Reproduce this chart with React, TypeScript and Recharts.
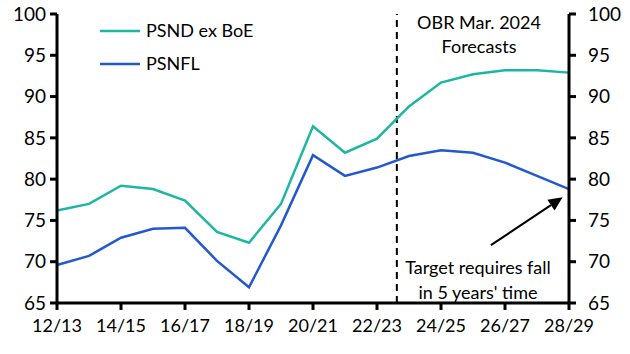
import { LineChart, Line, XAxis, YAxis, ReferenceLine, Customized } from "recharts"

document.body.style.margin = "0"

const categories = [
  "12/13", "13/14", "14/15", "15/16", "16/17", "17/18", "18/19", "19/20", "20/21",
  "21/22", "22/23", "23/24", "24/25", "25/26", "26/27", "27/28", "28/29",
]
const psndExBoe = [76.2, 77.0, 79.2, 78.8, 77.4, 73.6, 72.3, 77.0, 86.4, 83.2, 84.9, 88.8, 91.7, 92.7, 93.2, 93.2, 92.9]
const psnfl = [69.6, 70.7, 72.9, 74.0, 74.1, 70.1, 66.9, 74.4, 82.9, 80.4, 81.4, 82.8, 83.5, 83.2, 82.0, 80.4, 78.8]
const yTicks = [65, 70, 75, 80, 85, 90, 95, 100]
const xTicks = [0, 2, 4, 6, 8, 10, 12, 14, 16]

const TEAL = "#1db6a2"
const BLUE = "#2358cf"
const FONT = "Lato, 'Open Sans', sans-serif"

const data = categories.map((year, i) => ({ i, year, psnd: psndExBoe[i], psnfl: psnfl[i] }))

const tickStyle = { fill: "#000", fontSize: 18, fontFamily: FONT }
const yTickStyle = { fill: "#000", fontSize: 19, fontFamily: FONT }

function Arrow(props: any) {
  const { x1, y1, x2, y2 } = props
  const ang = Math.atan2(y2 - y1, x2 - x1)
  const len = 14
  const w = 6.5
  const bx = x2 - len * Math.cos(ang)
  const by = y2 - len * Math.sin(ang)
  const px = -Math.sin(ang) * w
  const py = Math.cos(ang) * w
  return (
    <g>
      <line x1={x1} y1={y1} x2={bx} y2={by} stroke="#000" strokeWidth={2} />
      <polygon points={`${x2},${y2} ${bx + px},${by + py} ${bx - px},${by - py}`} fill="#000" />
    </g>
  )
}

function Annotations() {
  return (
    <g fontFamily={FONT} fontSize={18} fill="#000">
      <line x1={100} y1={31} x2={140} y2={31} stroke={TEAL} strokeWidth={2.5} />
      <text x={146} y={37}>PSND ex BoE</text>
      <line x1={100} y1={64} x2={140} y2={64} stroke={BLUE} strokeWidth={2.5} />
      <text x={146} y={70}>PSNFL</text>
      <text x={479} y={29} textAnchor="middle">OBR Mar. 2024</text>
      <text x={479} y={53} textAnchor="middle">Forecasts</text>
      <text x={478} y={274} textAnchor="middle">Target requires fall</text>
      <text x={478} y={299} textAnchor="middle">in 5 years' time</text>
    </g>
  )
}

export default function App() {
  return (
    <div style={{ width: 630, height: 354, background: "#fff" }}>
      <LineChart width={630} height={354} data={data} margin={{ top: 14, right: 0, bottom: 0, left: 0 }}>
        <XAxis
          dataKey="i"
          type="number"
          domain={[0, 16]}
          ticks={xTicks}
          tickFormatter={(v: number) => categories[v]}
          height={51}
          tick={tickStyle}
          tickSize={7}
          tickMargin={9}
          axisLine={{ stroke: "#000", strokeWidth: 3 }}
          tickLine={{ stroke: "#000", strokeWidth: 3 }}
        />
        <YAxis
          yAxisId="left"
          domain={[65, 100]}
          ticks={yTicks}
          width={57}
          tick={yTickStyle}
          tickSize={7}
          tickMargin={4}
          axisLine={{ stroke: "#000", strokeWidth: 3 }}
          tickLine={{ stroke: "#000", strokeWidth: 3 }}
        />
        <YAxis
          yAxisId="right"
          orientation="right"
          domain={[65, 100]}
          ticks={yTicks}
          width={61}
          tick={yTickStyle}
          tickSize={7}
          tickMargin={12}
          axisLine={{ stroke: "#000", strokeWidth: 3 }}
          tickLine={{ stroke: "#000", strokeWidth: 3 }}
        />
        <ReferenceLine
          yAxisId="left"
          x={10.62}
          stroke="#000"
          strokeWidth={2}
          strokeDasharray="7 5"
          segment={[{ x: 10.62, y: 100.8 }, { x: 10.62, y: 65 }]}
          ifOverflow="visible"
        />
        <Line
          yAxisId="left"
          type="linear"
          dataKey="psnd"
          stroke={TEAL}
          strokeWidth={2.5}
          dot={false}
          isAnimationActive={false}
        />
        <Line
          yAxisId="right"
          type="linear"
          dataKey="psnfl"
          stroke={BLUE}
          strokeWidth={2.5}
          dot={false}
          isAnimationActive={false}
        />
        <ReferenceLine
          yAxisId="left"
          segment={[{ x: 13.56, y: 72.0 }, { x: 15.8, y: 77.8 }]}
          shape={Arrow}
          ifOverflow="visible"
        />
        <Customized component={Annotations} />
      </LineChart>
    </div>
  )
}
